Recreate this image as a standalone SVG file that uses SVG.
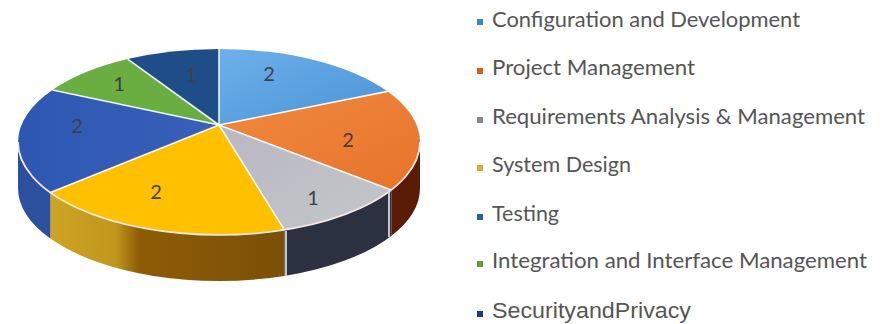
<svg xmlns="http://www.w3.org/2000/svg" width="883" height="324" viewBox="0 0 883 324">
  <style>
    .sep { fill: none; stroke: #ffffff; stroke-width: 1.6; stroke-opacity: 0.9; }
    .rim { fill: none; stroke: #fbe9e6; stroke-width: 1.8; }
    .val { font-family: Lato, "Open Sans", sans-serif; font-size: 20px; fill: #404040; text-anchor: middle; }
    .leg { font-family: Lato, "Open Sans", sans-serif; font-size: 21px; fill: #555555; }
    .leg2 { font-family: "Liberation Sans", Arial, sans-serif; font-size: 22px; fill: #555555; }
  </style>
  <defs>
    <linearGradient id="gConfig" x1="0" y1="0" x2="1" y2="1">
      <stop offset="0" stop-color="#6db0ea"/>
      <stop offset="1" stop-color="#4a93d6"/>
    </linearGradient>
    <linearGradient id="gProj" x1="0" y1="0" x2="1" y2="1">
      <stop offset="0" stop-color="#f08a40"/>
      <stop offset="1" stop-color="#e8732a"/>
    </linearGradient>
    <linearGradient id="gReq" x1="0" y1="0" x2="1" y2="1">
      <stop offset="0" stop-color="#b9b7c4"/>
      <stop offset="1" stop-color="#c4c6c8"/>
    </linearGradient>
    <linearGradient id="gSys" x1="50" y1="0" x2="285" y2="0" gradientUnits="userSpaceOnUse">
      <stop offset="0" stop-color="#cda523"/>
      <stop offset="0.28" stop-color="#c0961c"/>
      <stop offset="0.38" stop-color="#8e5c06"/>
      <stop offset="1" stop-color="#7a5006"/>
    </linearGradient>
    <linearGradient id="gTest" x1="0" y1="0" x2="1" y2="0">
      <stop offset="0" stop-color="#2d58b2"/>
      <stop offset="1" stop-color="#3a5fb8"/>
    </linearGradient>
  </defs>

  <rect width="883" height="324" fill="#ffffff"/>

  <!-- side faces -->
  <g id="sides">
    <path id="side-project" d="M420,142 A201,93 0 0 1 391.3,189.9 L391.3,235.9 A201,93 0 0 0 420,188 Z" fill="#5a1c06"/>
    <path id="side-requirements" d="M391.3,189.9 A201,93 0 0 1 284.4,229.9 L284.4,275.9 A201,93 0 0 0 391.3,235.9 Z" fill="#2b3140"/>
    <path id="side-system" d="M284.4,229.9 A201,93 0 0 1 50.4,192.6 L50.4,238.6 A201,93 0 0 0 284.4,275.9 Z" fill="url(#gSys)"/>
    <path id="side-testing" d="M50.4,192.6 A201,93 0 0 1 18,142 L18,188 A201,93 0 0 0 50.4,238.6 Z" fill="#2c4f9e"/>
    <line class="sep" x1="286" y1="231" x2="286" y2="276"/>
    <line class="sep" x1="389" y1="192" x2="389" y2="237"/>
  </g>

  <!-- top faces -->
  <g id="slice-config">
    <path d="M219,125 L219,49 A201,93 0 0 1 387.6,91.4 Z" fill="url(#gConfig)"/>
  </g>
  <g id="slice-project">
    <path d="M219,125 L387.6,91.4 A201,93 0 0 1 391.3,189.9 Z" fill="url(#gProj)"/>
  </g>
  <g id="slice-requirements">
    <path d="M219,125 L391.3,189.9 A201,93 0 0 1 284.4,229.9 Z" fill="url(#gReq)"/>
  </g>
  <g id="slice-system">
    <path d="M219,125 L284.4,229.9 A201,93 0 0 1 50.4,192.6 Z" fill="#ffc000"/>
  </g>
  <g id="slice-testing">
    <path d="M219,125 L50.4,192.6 A201,93 0 0 1 52.4,90 Z" fill="url(#gTest)"/>
  </g>
  <g id="slice-integration">
    <path d="M219,125 L52.4,90 A201,93 0 0 1 127.7,59.1 Z" fill="#6aae42"/>
  </g>
  <g id="slice-security">
    <path d="M219,125 L127.7,59.1 A201,93 0 0 1 219,49 Z" fill="#1f4d88"/>
  </g>

  <!-- separators and rim -->
  <g id="separators">
    <path class="rim" d="M420,142 A201,93 0 0 1 18,142"/>
    <line class="sep" x1="219" y1="125" x2="219" y2="49"/>
    <line class="sep" x1="219" y1="125" x2="387.6" y2="91.4"/>
    <line class="sep" x1="219" y1="125" x2="391.3" y2="189.9"/>
    <line class="sep" x1="219" y1="125" x2="284.4" y2="229.9"/>
    <line class="sep" x1="219" y1="125" x2="50.4" y2="192.6"/>
    <line class="sep" x1="219" y1="125" x2="52.4" y2="90"/>
    <line class="sep" x1="219" y1="125" x2="127.7" y2="59.1"/>
  </g>

  <!-- values -->
  <g id="values">
    <text class="val" x="269" y="81">2</text>
    <text class="val" x="348" y="147">2</text>
    <text class="val" x="313" y="205">1</text>
    <text class="val" x="156" y="199">2</text>
    <text class="val" x="77" y="133">2</text>
    <text class="val" x="119" y="91">1</text>
    <text class="val" x="191" y="82">1</text>
  </g>

  <!-- legend -->
  <g id="legend">
    <g id="leg-config"><rect x="477" y="19" width="6" height="6" fill="#3a86c8"/><text class="leg" x="492" y="27" textLength="308" lengthAdjust="spacingAndGlyphs">Configuration and Development</text></g>
    <g id="leg-project"><rect x="477" y="68" width="6" height="6" fill="#e05a1a"/><text class="leg" x="492" y="75" textLength="203" lengthAdjust="spacingAndGlyphs">Project Management</text></g>
    <g id="leg-requirements"><rect x="477" y="117" width="6" height="6" fill="#858585"/><text class="leg" x="492" y="124" textLength="373" lengthAdjust="spacingAndGlyphs">Requirements Analysis &amp; Management</text></g>
    <g id="leg-system"><rect x="477" y="165" width="6" height="6" fill="#e3aa28"/><text class="leg" x="492" y="172" textLength="139" lengthAdjust="spacingAndGlyphs">System Design</text></g>
    <g id="leg-testing"><rect x="477" y="214" width="6" height="6" fill="#2462a8"/><text class="leg" x="492" y="221" textLength="67" lengthAdjust="spacingAndGlyphs">Testing</text></g>
    <g id="leg-integration"><rect x="477" y="261" width="6" height="6" fill="#6a9a3a"/><text class="leg" x="492" y="268" textLength="375" lengthAdjust="spacingAndGlyphs">Integration and Interface Management</text></g>
    <g id="leg-security"><rect x="477" y="311" width="6" height="6" fill="#1a3a8a"/><text class="leg2" x="492" y="318" textLength="199" lengthAdjust="spacingAndGlyphs">SecurityandPrivacy</text></g>
  </g>
</svg>
